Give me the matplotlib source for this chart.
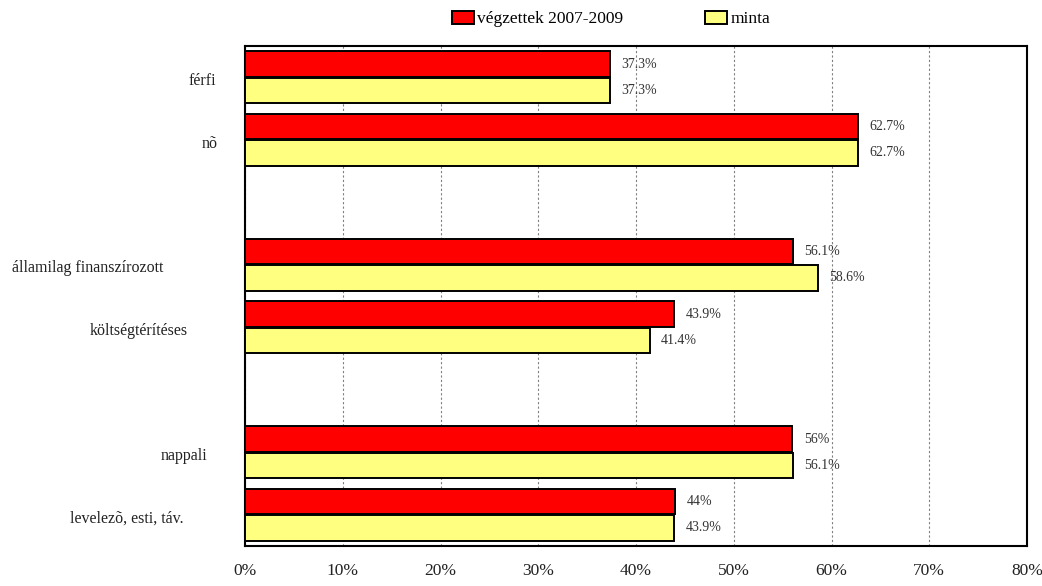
import numpy as np
import matplotlib
matplotlib.use("Agg")
import matplotlib.pyplot as plt
from matplotlib.transforms import blended_transform_factory

categories = ["férfi", "nõ", "", "államilag finanszírozott", "költségtérítéses", "",
              "nappali", "levelezõ, esti, táv."]
vegzettek = [37.3, 62.7, np.nan, 56.1, 43.9, np.nan, 56.0, 44.0]
minta = [37.3, 62.7, np.nan, 58.6, 41.4, np.nan, 56.1, 43.9]
vegzettek_labels = ["37.3%", "62.7%", "", "56.1%", "43.9%", "", "56%", "44%"]
minta_labels = ["37.3%", "62.7%", "", "58.6%", "41.4%", "", "56.1%", "43.9%"]
series_names = ["végzettek 2007-2009", "minta"]
xticks = [0, 10, 20, 30, 40, 50, 60, 70, 80]
xtick_labels = ["0%", "10%", "20%", "30%", "40%", "50%", "60%", "70%", "80%"]

# label horizontal centers (px offset from the axis left edge) - layout only
label_offsets_px = [-43, -35, 0, -157, -106, 0, -61, -118]

plt.rcParams["font.family"] = ["Liberation Serif", "DejaVu Serif"]

fig = plt.figure(figsize=(10.42, 5.86), dpi=100)
ax = fig.add_axes([245 / 1042, 1 - 546 / 586, 782 / 1042, 500 / 586])

y = np.arange(len(categories))
h = 0.41
red = "#FF0000"
yellow = "#FFFF80"
b1 = ax.barh(y - 0.21, vegzettek, height=h, color=red, edgecolor="black", linewidth=1.4,
             label=series_names[0], zorder=3)
b2 = ax.barh(y + 0.21, minta, height=h, color=yellow, edgecolor="black", linewidth=1.4,
             label=series_names[1], zorder=3)

for yi, v, lab in zip(y - 0.21, vegzettek, vegzettek_labels):
    if lab:
        ax.text(v + 1.15, yi, lab, va="center", ha="left", fontsize=10, color="#333333", zorder=4)
for yi, v, lab in zip(y + 0.21, minta, minta_labels):
    if lab:
        ax.text(v + 1.15, yi, lab, va="center", ha="left", fontsize=10, color="#333333", zorder=4)

ax.set_xlim(0, 80)
ax.set_ylim(len(categories) - 0.5, -0.5)
ax.set_xticks(xticks)
ax.set_xticklabels(xtick_labels, fontsize=12.5, color="#222222")
ax.tick_params(axis="x", length=0, pad=12)
ax.set_yticks([])

trans = blended_transform_factory(ax.transAxes, ax.transData)
for yi, lab, off in zip(y, categories, label_offsets_px):
    if lab:
        ax.text(off / 782, yi + 0.06, lab, transform=trans, ha="center", va="center",
                fontsize=11.5, color="#222222")

ax.grid(axis="x", linestyle=(0, (2, 2)), color="#808080", linewidth=0.8, zorder=0)
for s in ax.spines.values():
    s.set_linewidth(1.5)
    s.set_color("black")

fig.legend(handles=[b1, b2], labels=series_names, loc="center",
           bbox_to_anchor=(611 / 1042, 1 - 19 / 586), ncol=2, frameon=False,
           fontsize=12.5, handlelength=1.25, handleheight=0.8, handletextpad=0.2,
           columnspacing=4.7, borderaxespad=0)

fig.savefig("out.png", dpi=100)
